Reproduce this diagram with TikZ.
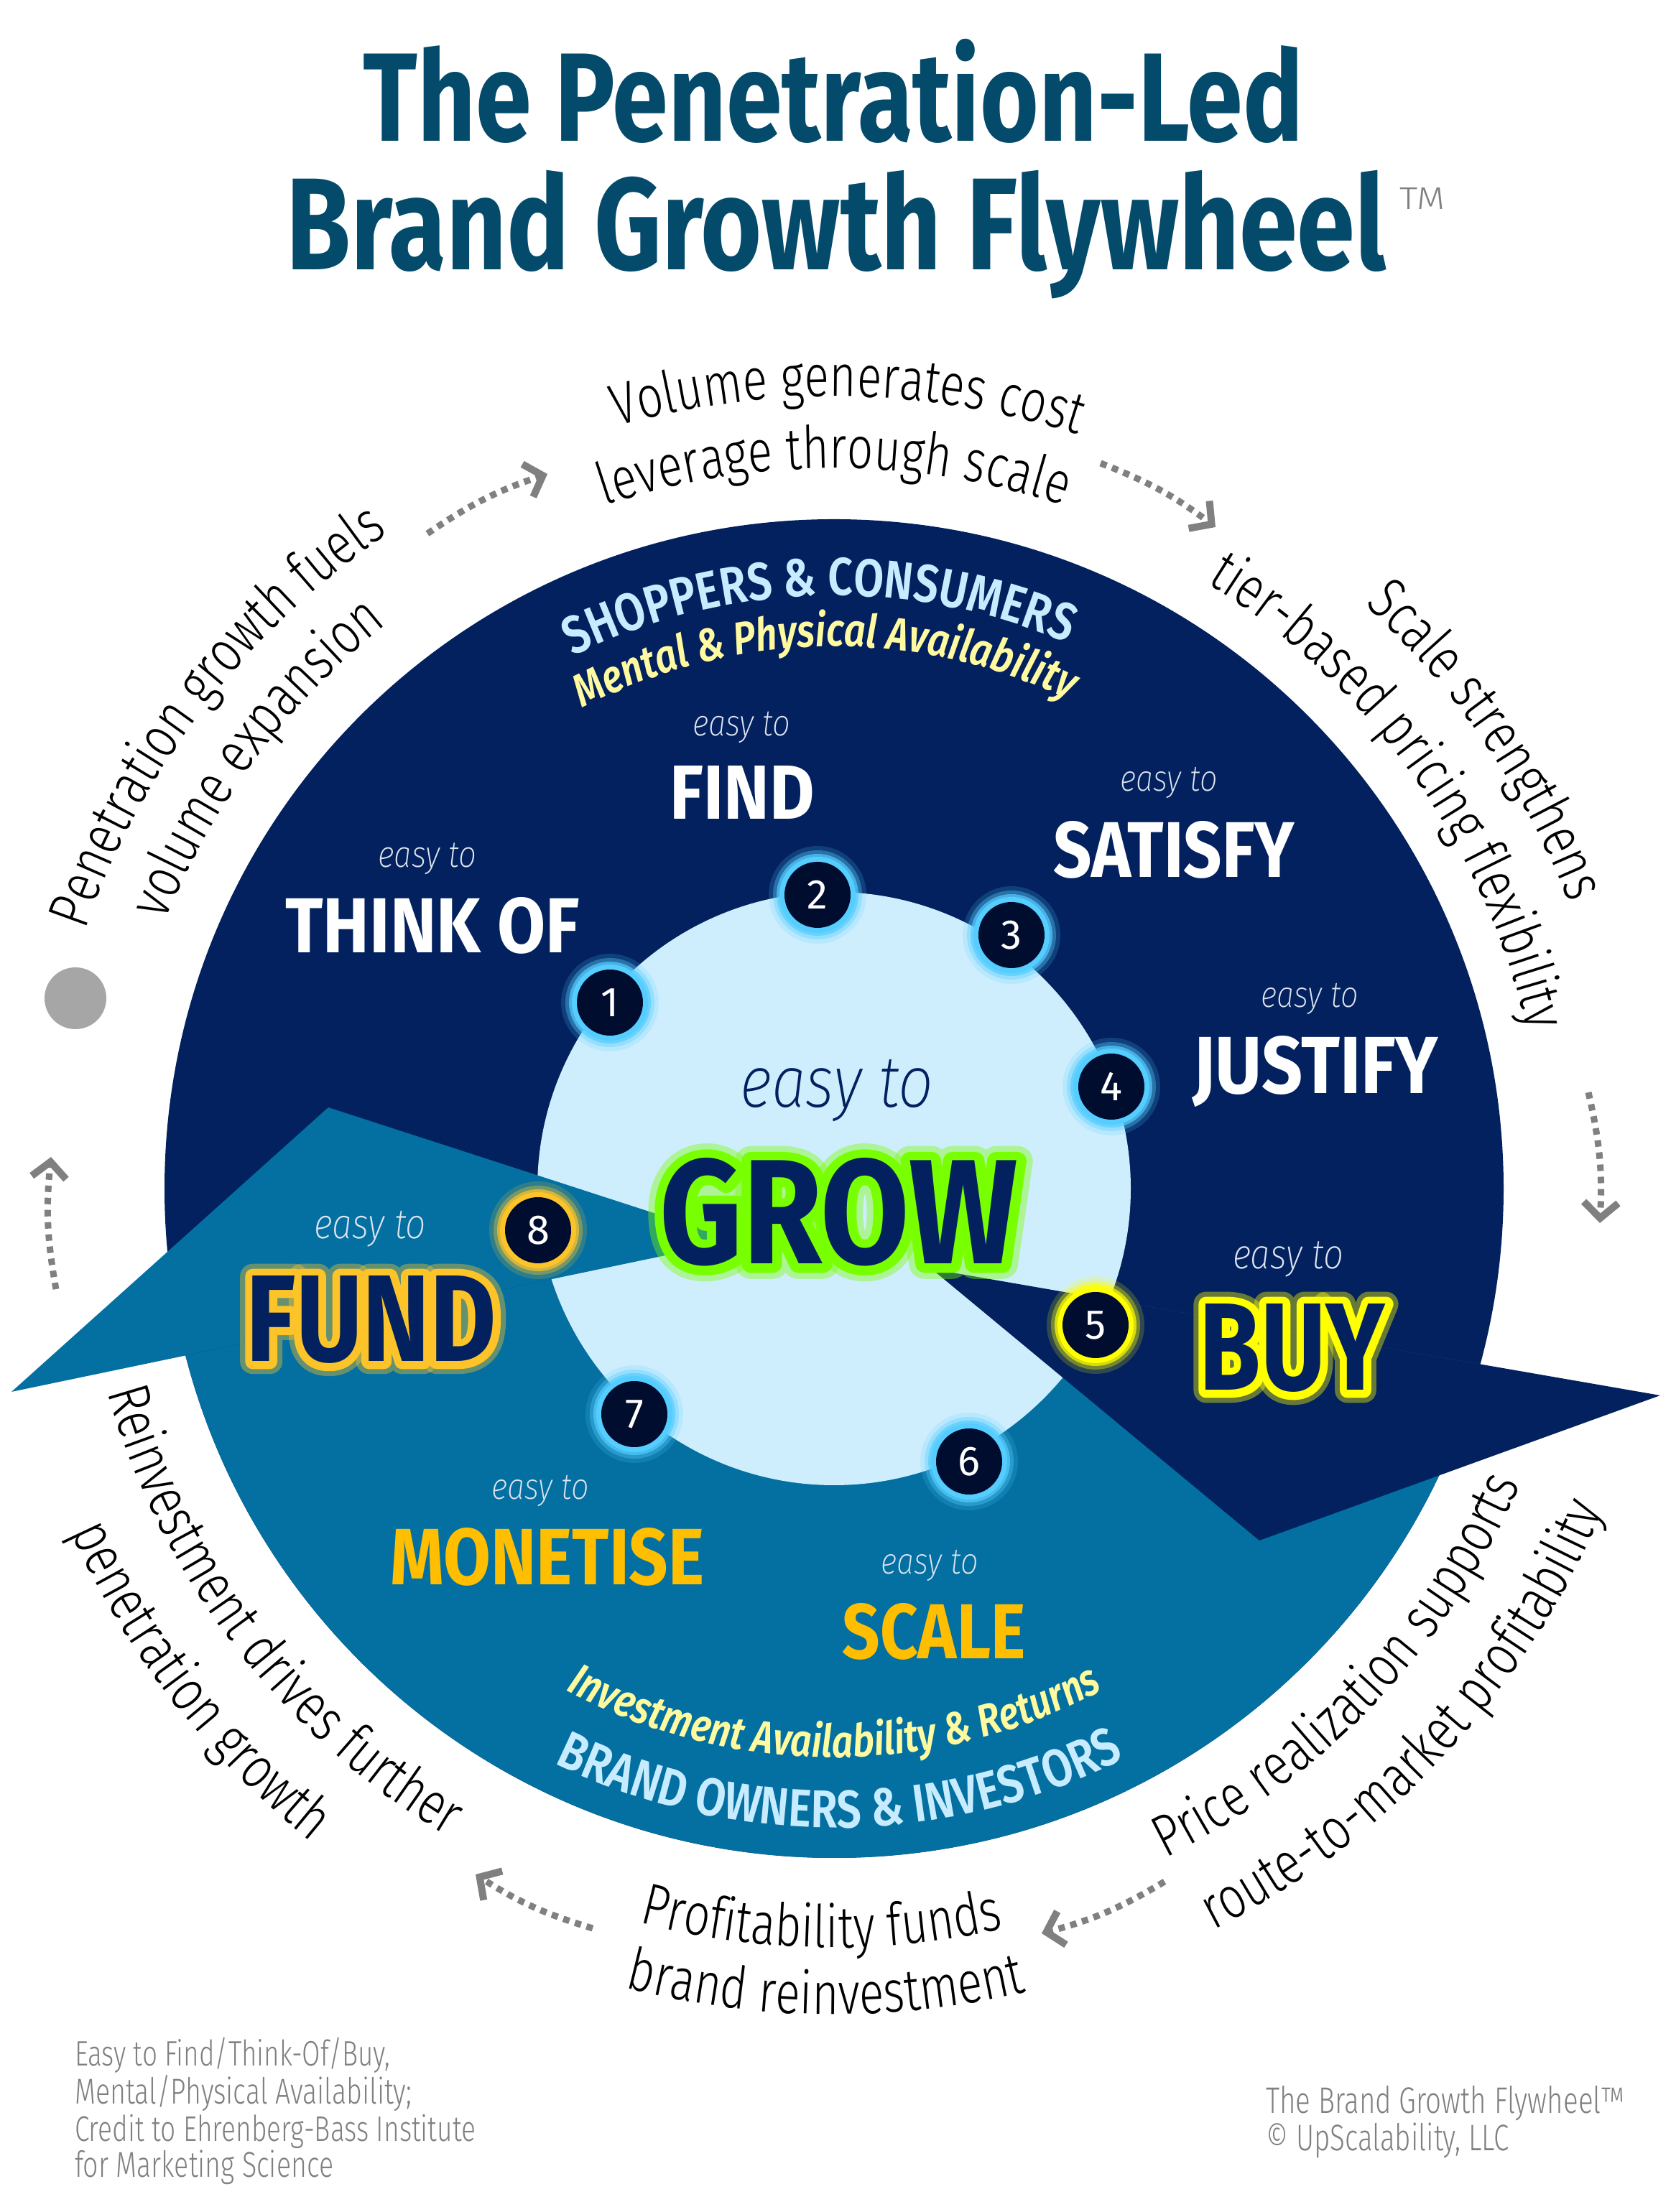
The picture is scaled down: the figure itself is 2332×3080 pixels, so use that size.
\documentclass[tikz,border=0pt]{standalone}
\usepackage{fontspec}
\usetikzlibrary{decorations.text,arrows.meta}
\newfontfamily\ringfont[FakeStretch=0.78]{Fira Sans Light}
\newfontfamily\boldc[FakeStretch=0.8]{Fira Sans Bold}
\newfontfamily\glowa[FakeStretch=0.8,FakeBold=12]{Fira Sans Bold}
\newfontfamily\glowb[FakeStretch=0.8,FakeBold=20]{Fira Sans Bold}
\newfontfamily\easyf[FakeStretch=0.85]{Fira Sans ExtraLight Italic}
\newfontfamily\semic[FakeStretch=0.82]{Fira Sans SemiBold}
\newfontfamily\semici[FakeStretch=0.82]{Fira Sans SemiBold Italic}
\newfontfamily\numf{Fira Sans}
\newfontfamily\footf[FakeStretch=0.75]{Fira Sans Light}
\definecolor{navyc}{RGB}{2,33,94}
\definecolor{tealc}{RGB}{3,112,161}
\definecolor{lightc}{RGB}{207,238,253}
\definecolor{titlec}{RGB}{3,74,107}
\definecolor{goldc}{RGB}{255,190,0}
\definecolor{numdark}{RGB}{0,13,46}
\definecolor{glowblue}{RGB}{85,205,255}
\definecolor{glowyellow}{RGB}{255,255,0}
\definecolor{glowgold}{RGB}{252,196,40}
\definecolor{glowgreen}{RGB}{120,255,0}
\definecolor{skyc}{RGB}{200,236,255}
\definecolor{paley}{RGB}{255,250,160}
\definecolor{easyc}{RGB}{222,228,240}
\definecolor{arrowc}{RGB}{128,128,128}
\definecolor{dotc}{RGB}{166,166,166}
\definecolor{footc}{RGB}{128,128,128}
\tikzset{
  lbl/.style={anchor=base, inner sep=0pt, outer sep=0pt},
  glowlbl/.style={lbl, line join=round, line cap=round},
  numc/.style={circle, fill=numdark, minimum size=92pt, inner sep=0pt, text=white, font=\numf\fontsize{58}{58}\selectfont},
  dotarr/.style={draw=arrowc, line width=9pt, dash pattern=on 9pt off 8pt, -{Straight Barb[length=22pt,width=48pt,line width=10pt]}},
}
% clockwise arc text: radius, centre angle, half span, colour, text
\newcommand\cwtext[5]{\path[decorate,decoration={text along path,text align=center,text color=#4,text={#5}}] ([shift={(#2+#3:#1)}]C) arc[start angle=#2+#3, end angle=#2-#3, radius=#1];}
% counter-clockwise arc text
\newcommand\ccwtext[5]{\path[decorate,decoration={text along path,text align=center,text color=#4,text={#5}}] ([shift={(#2-#3:#1)}]C) arc[start angle=#2-#3, end angle=#2+#3, radius=#1];}
\newcommand\numcirc[4]{%
  \fill[#3, opacity=0.18] #2 circle[radius=68];
  \fill[#3, opacity=0.35] #2 circle[radius=62];
  \fill[#3, opacity=0.7] #2 circle[radius=57];
  \fill[#3] #2 circle[radius=53];
  \node[numc] (#1) at #2 {#4};}
\newcommand\glowword[6]{%
  \coordinate (#1p) at #2;
  \node[glowlbl, text=#5, opacity=0.4] (#1gb) at (#1p) {\resizebox{#3}{#4}{\glowb #6}};
  \node[glowlbl, text=#5] (#1ga) at (#1p) {\resizebox{#3}{#4}{\glowa #6}};
  \node[lbl, text=navyc] (#1) at (#1p) {\resizebox{#3}{#4}{\boldc #6}};}
\begin{document}
\begin{tikzpicture}[x=1pt,y=1pt]
\useasboundingbox (0,0) rectangle (2332,3080);
\fill[white] (0,0) rectangle (2332,3080);
\coordinate (C) at (1161,1425);

% wheel
\fill[navyc] (C) circle[radius=932];
\begin{scope}
  \clip (C) circle[radius=932];
  \fill[tealc] (16,1142) -- (1027,1353) -- (1297,1313) -- (2311,1137) -- (2400,-10) -- (-10,-10) -- cycle;
\end{scope}
\fill[lightc] (C) circle[radius=413];
\fill[tealc] (16,1142) -- (457,1538) -- (1027,1353) -- cycle;
\fill[navyc] (1297,1313) -- (1753,935) -- (2311,1137) -- cycle;

% title
\node[lbl, text=titlec] (t1) at (1160,2883) {\resizebox{1308pt}{!}{\boldc The Penetration-Led}};
\node[lbl, text=titlec] (t2) at (1164,2704) {\resizebox{1531pt}{!}{\boldc Brand Growth Flywheel}};
\node[anchor=south west, inner sep=0pt, text=arrowc] (tm) at (1948,2788) {\resizebox{63pt}{30pt}{\ringfont TM}};

% outer ring texts
\cwtext{1103}{89}{40}{black}{|\ringfont\fontsize{82}{90}\selectfont|Volume generates cost}
\cwtext{1003}{90}{40}{black}{|\ringfont\fontsize{82}{90}\selectfont|leverage through scale}
\cwtext{1103}{142.6}{40}{black}{|\ringfont\fontsize{82}{90}\selectfont|Penetration growth fuels}
\cwtext{1003}{143.3}{40}{black}{|\ringfont\fontsize{82}{90}\selectfont|volume expansion}
\cwtext{1098}{34.5}{40}{black}{|\ringfont\fontsize{82}{90}\selectfont|Scale strengthens}
\cwtext{990}{35.6}{40}{black}{|\ringfont\fontsize{82}{90}\selectfont|tier-based pricing flexibility}
\ccwtext{1040}{-43.5}{40}{black}{|\ringfont\fontsize{82}{90}\selectfont|Price realization supports}
\ccwtext{1160}{-42.8}{40}{black}{|\ringfont\fontsize{82}{90}\selectfont|route-to-market profitability}
\ccwtext{1057}{-91}{40}{black}{|\ringfont\fontsize{82}{90}\selectfont|Profitability funds}
\ccwtext{1150}{-90.6}{40}{black}{|\ringfont\fontsize{82}{90}\selectfont|brand reinvestment}
\ccwtext{1050}{-142.6}{40}{black}{|\ringfont\fontsize{82}{90}\selectfont|Reinvestment drives further}
\ccwtext{1165}{-142.2}{40}{black}{|\ringfont\fontsize{82}{90}\selectfont|penetration growth}

% inner ring texts
\cwtext{826}{91.5}{40}{skyc}{|\semic\fontsize{74}{80}\selectfont|SHOPPERS {\&} CONSUMERS}
\cwtext{755}{91}{40}{paley}{|\semici\fontsize{64}{70}\selectfont|Mental {\&} Physical Availability}
\ccwtext{792}{-90}{40}{paley}{|\semici\fontsize{63}{70}\selectfont|Investment Availability {\&} Returns}
\ccwtext{890}{-89.5}{40}{skyc}{|\semic\fontsize{74}{80}\selectfont|BRAND OWNERS {\&} INVESTORS}

% dotted arrows
\coordinate (a1s) at (595,2337); \coordinate (a1e) at (762,2420);
\coordinate (a2s) at (1532,2435); \coordinate (a2e) at (1692,2346);
\coordinate (a3s) at (2211,1559); \coordinate (a3e) at (2227,1377);
\coordinate (a4s) at (1621,460); \coordinate (a4e) at (1450,388);
\coordinate (a5s) at (825,395); \coordinate (a5e) at (662,470);
\coordinate (a6s) at (78,1285); \coordinate (a6e) at (71,1469);
\draw[dotarr] (a1s) to[bend left=8] (a1e);
\draw[dotarr] (a2s) to[bend left=8] (a2e);
\draw[dotarr] (a3s) to[bend left=8] (a3e);
\draw[dotarr] (a4s) to[bend left=8] (a4e);
\draw[dotarr] (a5s) to[bend left=8] (a5e);
\draw[dotarr] (a6s) to[bend left=8] (a6e);
\node[circle, fill=dotc, minimum size=86pt, inner sep=0pt] (gdot) at (105,1690) {};

% number circles
\numcirc{n1}{(849,1684)}{glowblue}{1}
\numcirc{n2}{(1138,1834)}{glowblue}{2}
\numcirc{n3}{(1408,1778)}{glowblue}{3}
\numcirc{n4}{(1547,1567)}{glowblue}{4}
\numcirc{n5}{(1525,1235)}{glowyellow}{5}
\numcirc{n6}{(1349,1045)}{glowblue}{6}
\numcirc{n7}{(883,1111)}{glowblue}{7}
\numcirc{n8}{(749,1367)}{glowgold}{8}

% labels
\node[lbl, text=easyc] (e2) at (1032,2055) {\resizebox{136pt}{!}{\easyf easy to}};
\node[lbl, text=white] (find) at (1033,1939) {\resizebox{201pt}{74pt}{\boldc FIND}};
\node[lbl, text=easyc] (e1) at (595,1872) {\resizebox{137pt}{!}{\easyf easy to}};
\node[lbl, text=white] (think) at (602,1753) {\resizebox{409pt}{77pt}{\boldc THINK OF}};
\node[lbl, text=easyc] (e3) at (1627,1978) {\resizebox{135pt}{!}{\easyf easy to}};
\node[lbl, text=white] (satisfy) at (1634,1858) {\resizebox{335pt}{78pt}{\boldc SATISFY}};
\node[lbl, text=easyc] (e4) at (1823,1677) {\resizebox{135pt}{!}{\easyf easy to}};
\node[lbl, text=white] (justify) at (1831,1557) {\resizebox{342pt}{80pt}{\boldc JUSTIFY}};
\node[lbl, text=easyc] (e5) at (1793,1313) {\resizebox{154pt}{!}{\easyf easy to}};
\glowword{buy}{(1799,1144)}{258pt}{120pt}{glowyellow}{BUY}
\node[lbl, text=easyc] (e8) at (515,1355) {\resizebox{156pt}{!}{\easyf easy to}};
\glowword{fund}{(517,1184)}{348pt}{119pt}{glowgold}{FUND}
\node[lbl, text=easyc] (e7) at (752,992) {\resizebox{135pt}{!}{\easyf easy to}};
\node[lbl, text=goldc] (monetise) at (762,873) {\resizebox{437pt}{79pt}{\boldc MONETISE}};
\node[lbl, text=easyc] (e6) at (1294,888) {\resizebox{135pt}{!}{\easyf easy to}};
\node[lbl, text=goldc] (scale) at (1300,770) {\resizebox{255pt}{77pt}{\boldc SCALE}};
\node[lbl, text=navyc] (eg) at (1165,1538) {\resizebox{269pt}{!}{\easyf easy to}};
\glowword{grow}{(1168,1320)}{498pt}{147pt}{glowgreen}{GROW}

% footers
\node[anchor=base west, inner sep=0pt, text=footc] (f1) at (104,203) {\resizebox{439pt}{!}{\footf Easy to Find/Think-Of/Buy,}};
\node[anchor=base west, inner sep=0pt, text=footc] (f2) at (104,150) {\resizebox{469pt}{!}{\footf Mental/Physical Availability;}};
\node[anchor=base west, inner sep=0pt, text=footc] (f3) at (104,98) {\resizebox{558pt}{!}{\footf Credit to Ehrenberg-Bass Institute}};
\node[anchor=base west, inner sep=0pt, text=footc] (f4) at (104,48) {\resizebox{360pt}{!}{\footf for Marketing Science}};
\node[anchor=base west, inner sep=0pt, text=footc] (r1) at (1762,137) {\resizebox{499pt}{!}{\footf The Brand Growth Flywheel™}};
\node[anchor=base west, inner sep=0pt, text=footc] (r2) at (1762,85) {\resizebox{338pt}{!}{\footf © UpScalability, LLC}};
\end{tikzpicture}
\end{document}
